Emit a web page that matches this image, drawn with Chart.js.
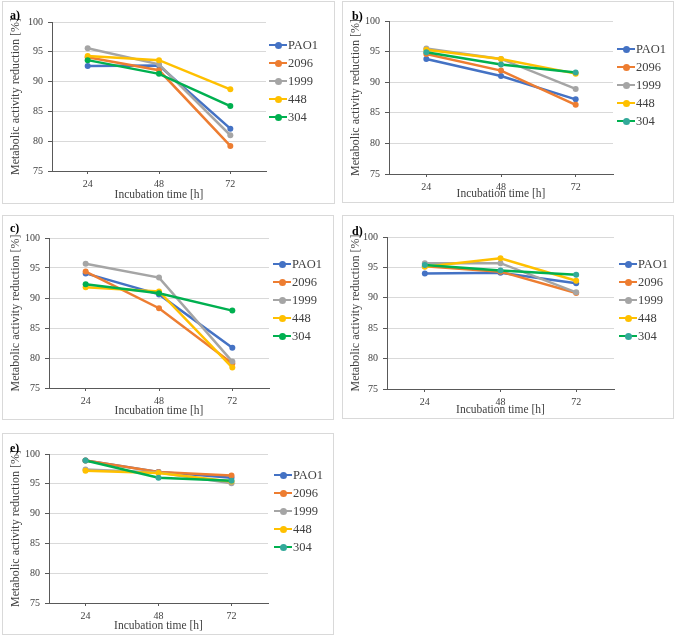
<!DOCTYPE html>
<html>
<head>
<meta charset="utf-8">
<script src="https://cdn.jsdelivr.net/npm/chart.js@4.4.1/dist/chart.umd.min.js"></script>
<style>
  body { margin: 0; background: #fff; width: 677px; height: 637px; position: relative; overflow: hidden;
         font-family: "Liberation Serif", "Times New Roman", serif; }
  .panel { position: absolute; border: 1px solid #d9d9d9; box-sizing: border-box; }
  .panel canvas { position: absolute; left: 0; top: 0; }
  .tag { position: absolute; font-weight: bold; font-size: 12px; color: #000; line-height: 12px; }
  .legend { position: absolute; font-size: 12.5px; color: #404040; }
  .legend .row { height: 18px; display: flex; align-items: center; white-space: nowrap; }
  .key { position: relative; width: 18px; height: 2.5px; margin-right: 1px; }
  .key i { position: absolute; left: 5.5px; top: -2.25px; width: 7px; height: 7px; border-radius: 50%; }
</style>
</head>
<body>
<script>
// categories / series
const hours = ['24', '48', '72'];
const strains = ['PAO1', '2096', '1999', '448', '304'];
const lineColors = ['#4472C4', '#ED7D31', '#A5A5A5', '#FFC000', '#00B050'];
const yMin = 75, yMax = 100, yStep = 5;

// values per panel, rows in the order of strains
const panelA = [
  [92.6, 92.7, 82.1],
  [94.1, 91.9, 79.2],
  [95.6, 92.9, 81.0],
  [94.3, 93.6, 88.7],
  [93.6, 91.3, 85.9]
];
const panelB = [
  [93.8, 91.0, 87.2],
  [94.6, 91.9, 86.3],
  [95.5, 93.8, 88.9],
  [95.3, 93.8, 91.4],
  [94.9, 92.9, 91.6]
];
const panelC = [
  [94.1, 90.6, 81.7],
  [94.4, 88.3, 79.1],
  [95.7, 93.4, 79.4],
  [91.8, 91.1, 78.4],
  [92.3, 90.8, 87.9]
];
const panelD = [
  [94.0, 94.1, 92.4],
  [95.2, 94.3, 90.8],
  [95.7, 95.7, 90.9],
  [95.1, 96.5, 92.8],
  [95.4, 94.5, 93.8]
];
const panelE = [
  [98.9, 97.0, 96.0],
  [98.9, 97.0, 96.4],
  [97.4, 96.9, 95.1],
  [97.2, 96.8, 95.4],
  [98.9, 96.0, 95.5]
];

// where things sit on the page
const panels = [
  { tag: 'a)', rows: panelA, box: [2, 1, 333, 203],   plot: [52, 22, 266, 171],   leg: [269, 36],  tagAt: [10, 9],    dot304: '#00B050' },
  { tag: 'b)', rows: panelB, box: [342, 1, 332, 202], plot: [389, 21, 613, 174],  leg: [617, 40],  tagAt: [352, 10],  dot304: '#33A99A' },
  { tag: 'c)', rows: panelC, box: [2, 215, 332, 205], plot: [49, 238, 269, 388],  leg: [273, 255], tagAt: [10, 222],  dot304: '#00B050' },
  { tag: 'd)', rows: panelD, box: [342, 215, 332, 204], plot: [387, 237, 614, 389], leg: [619, 255], tagAt: [352, 225], dot304: '#33A99A' },
  { tag: 'e)', rows: panelE, box: [2, 433, 332, 202], plot: [49, 454, 268, 603],  leg: [274, 466], tagAt: [10, 442],  dot304: '#33A99A' }
];

const axisColor = '#595959';
const textColor = '#404040';

function makePanel(p) {
  const [bx, by, bw, bh] = p.box;
  const ox = bx + 1, oy = by + 1;          // canvas origin (inside the border)
  const cw = bw - 2, ch = bh - 2;
  const [pl, pt, pr, pb] = p.plot;

  const div = document.createElement('div');
  div.className = 'panel';
  Object.assign(div.style, { left: bx + 'px', top: by + 'px', width: bw + 'px', height: bh + 'px' });
  document.body.appendChild(div);

  const canvas = document.createElement('canvas');
  canvas.width = cw;
  canvas.height = ch;
  canvas.style.width = cw + 'px';
  canvas.style.height = ch + 'px';
  div.appendChild(canvas);

  const datasets = strains.map((name, i) => ({
    label: name,
    data: p.rows[i],
    borderColor: lineColors[i],
    backgroundColor: i === 4 ? p.dot304 : lineColors[i],
    pointBackgroundColor: i === 4 ? p.dot304 : lineColors[i],
    pointBorderColor: i === 4 ? p.dot304 : lineColors[i],
    borderWidth: 2.5,
    pointRadius: 3,
    pointBorderWidth: 0,
    tension: 0,
    order: strains.length - i   // later series on top, as in Excel
  }));

  const chart = new Chart(canvas.getContext('2d'), {
    type: 'line',
    data: { labels: hours, datasets: datasets },
    options: {
      responsive: false,
      animation: false,
      devicePixelRatio: 1,
      layout: { padding: { left: 0, top: pt - oy, right: ox + cw - pr, bottom: 0 } },
      plugins: { legend: { display: false }, tooltip: { enabled: false } },
      scales: {
        x: {
          offset: true,
          grid: { display: true, drawOnChartArea: false, offset: false, tickLength: 3, tickColor: axisColor },
          border: { color: axisColor, width: 1 },
          ticks: { color: textColor, font: { family: 'Liberation Serif', size: 10 }, padding: 4 },
          title: { display: true, text: 'Incubation time [h]', color: textColor,
                   font: { family: 'Liberation Serif', size: 11.5 }, padding: { top: 0, bottom: 1 } },
          afterFit: s => { s.height = oy + ch - pb; }
        },
        y: {
          min: yMin, max: yMax,
          ticks: { stepSize: yStep, color: textColor, font: { family: 'Liberation Serif', size: 10 }, padding: 5 },
          grid: { color: '#d9d9d9', tickLength: 4, tickColor: axisColor },
          border: { color: axisColor, width: 1 },
          title: { display: true, text: 'Metabolic activity reduction [%]', color: textColor,
                   font: { family: 'Liberation Serif', size: 12 }, padding: { top: 6, bottom: 0 } },
          afterFit: s => { s.width = pl - ox; }
        }
      }
    }
  });

  // panel tag
  const tag = document.createElement('div');
  tag.className = 'tag';
  tag.textContent = p.tag;
  tag.style.left = (p.tagAt[0] - ox) + 'px';
  tag.style.top = (p.tagAt[1] - oy) + 'px';
  div.appendChild(tag);

  // legend built from the chart's datasets
  const leg = document.createElement('div');
  leg.className = 'legend';
  leg.style.left = (p.leg[0] - ox) + 'px';
  leg.style.top = (p.leg[1] - oy) + 'px';
  chart.data.datasets.forEach(ds => {
    const row = document.createElement('div');
    row.className = 'row';
    const key = document.createElement('span');
    key.className = 'key';
    key.style.background = ds.borderColor;
    const dot = document.createElement('i');
    dot.style.background = ds.pointBackgroundColor;
    key.appendChild(dot);
    row.appendChild(key);
    row.appendChild(document.createTextNode(ds.label));
    leg.appendChild(row);
  });
  div.appendChild(leg);
}

panels.forEach(makePanel);
</script>
</body>
</html>
